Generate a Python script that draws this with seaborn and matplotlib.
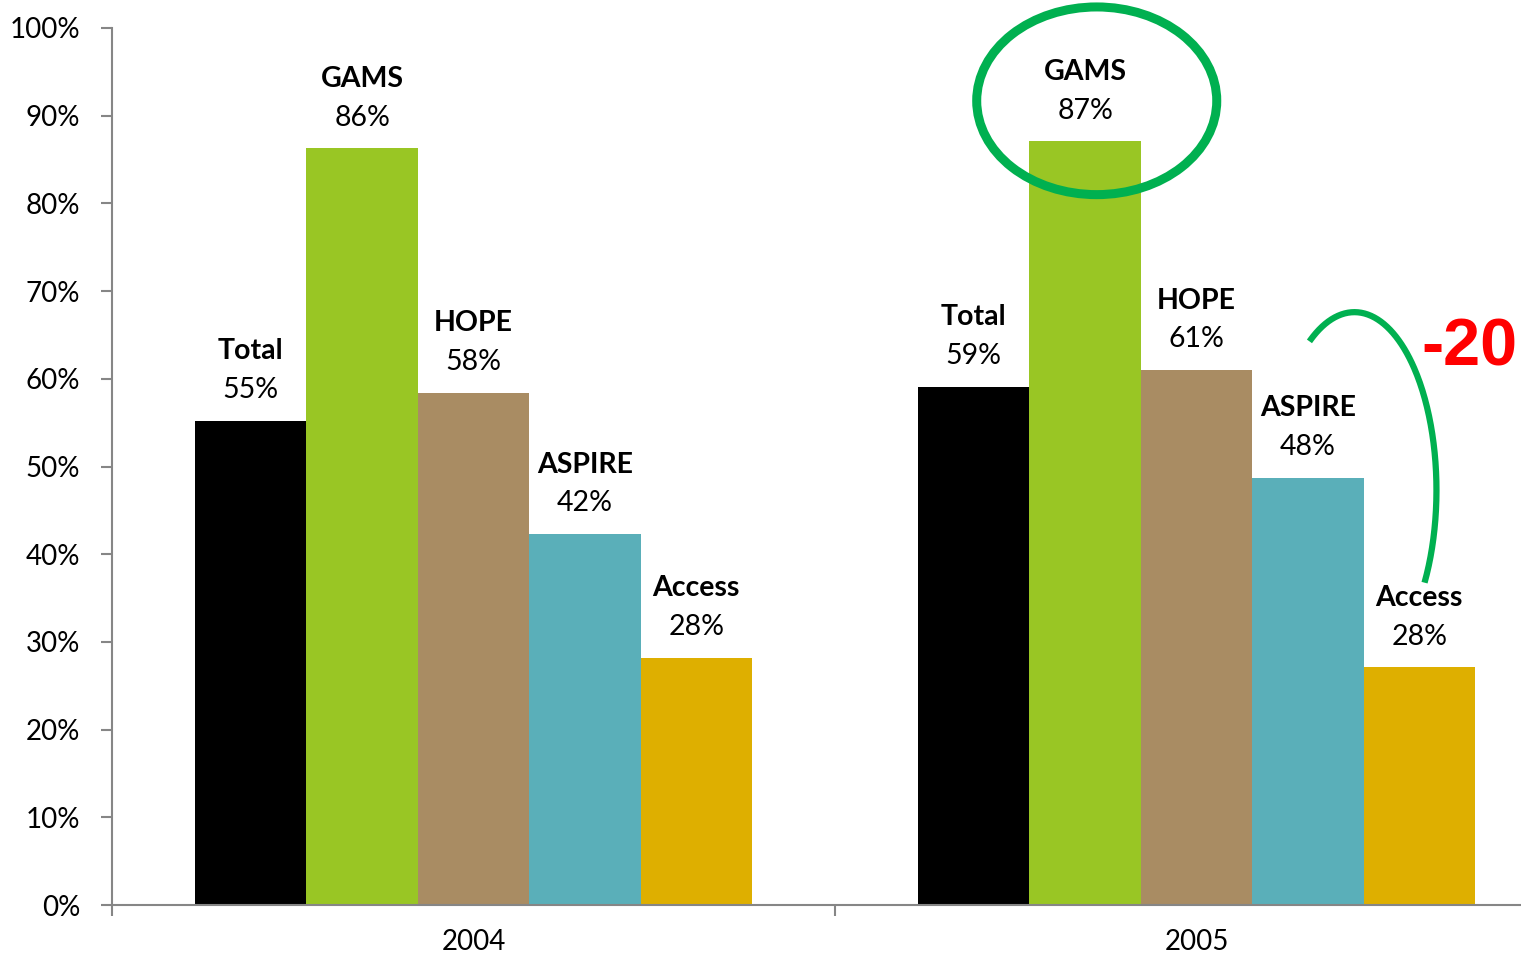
import numpy as np
import pandas as pd
import matplotlib
matplotlib.use("Agg")
import matplotlib.pyplot as plt
from matplotlib.patches import Ellipse
import seaborn as sns

years = ["2004", "2005"]
programs = ["Total", "GAMS", "HOPE", "ASPIRE", "Access"]
values_2004 = [55.2, 86.3, 58.4, 42.3, 28.2]
values_2005 = [59.1, 87.1, 61.0, 48.7, 27.1]
labels_2004 = ["55%", "86%", "58%", "42%", "28%"]
labels_2005 = ["59%", "87%", "61%", "48%", "28%"]
colors = ["#000000", "#99C624", "#A98C63", "#5AAFB9", "#DEAF00"]
y_ticks = [0, 10, 20, 30, 40, 50, 60, 70, 80, 90, 100]
y_tick_labels = [f"{t}%" for t in y_ticks]
delta_text = "-20"

sns.set_theme(style="white")
plt.rcParams["font.family"] = ["Lato", "DejaVu Sans"]

df = pd.DataFrame({
    "year": [years[0]] * 5 + [years[1]] * 5,
    "program": programs * 2,
    "value": values_2004 + values_2005,
    "label": labels_2004 + labels_2005,
})

fig = plt.figure(figsize=(15.21, 9.56), dpi=100)
ax = fig.add_axes([112 / 1521, 1 - 905 / 956, (1558 - 112) / 1521, (905 - 28) / 956])

sns.barplot(data=df, x="year", y="value", hue="program", hue_order=programs,
            palette=colors, width=0.77, saturation=1, legend=False,
            linewidth=0, ax=ax)

ax.set_xlim(-0.5, 1.5)
ax.set_ylim(0, 100)
ax.set_yticks(y_ticks)
ax.set_yticklabels(y_tick_labels)
ax.set_xlabel("")
ax.set_ylabel("")

for s in ["top", "right"]:
    ax.spines[s].set_visible(False)
for s in ["left", "bottom"]:
    ax.spines[s].set_color("#868686")
    ax.spines[s].set_linewidth(1.5)

ax.tick_params(axis="y", which="both", left=True, length=8, width=1.5,
               color="#868686", pad=15, labelsize=20, labelcolor="black")
ax.set_xticks([-0.5, 0.5, 1.5], minor=False)
ax.set_xticklabels(["", "", ""])
ax.set_xticks([0, 1], minor=True)
ax.set_xticklabels(years, minor=True)
ax.tick_params(axis="x", which="major", bottom=True, length=8, width=1.5, color="#868686")
ax.tick_params(axis="x", which="minor", bottom=False, length=0, pad=17,
               labelsize=20, labelcolor="black")

# Data labels
for container, prog in zip(ax.containers, programs):
    for bar, (_, row) in zip(container, df[df["program"] == prog].iterrows()):
        xc = bar.get_x() + bar.get_width() / 2
        h = bar.get_height()
        ax.annotate(row["label"], (xc, h), xytext=(0, 22), textcoords="offset points",
                    ha="center", va="center", fontsize=20.5, color="black")
        ax.annotate(prog, (xc, h), xytext=(0, 50), textcoords="offset points",
                    ha="center", va="center", fontsize=20.5, fontweight="bold", color="black")

# Green ellipse around GAMS 2005
ell = Ellipse((0.862, 91.7), width=0.332, height=21.4, fill=False,
              edgecolor="#00B050", linewidth=6.5, clip_on=False, zorder=5)
ax.add_patch(ell)

# Green arc from ASPIRE to Access 2005
t = np.radians(np.linspace(-31.3, 123.3, 200))
xc_, yc_, a_, b_ = 1.2185, 47.3, 0.1134, 20.3
ax.plot(xc_ + a_ * np.cos(t), yc_ + b_ * np.sin(t), color="#00B050",
        linewidth=4.5, solid_capstyle="butt", clip_on=False, zorder=5)

ax.text(1.378, 63.5, delta_text, color="#FF0000", fontsize=48, fontweight="bold",
        ha="center", va="center", family=["Liberation Sans", "DejaVu Sans"],
        clip_on=False, zorder=6)

fig.savefig("out.png", dpi=100)
